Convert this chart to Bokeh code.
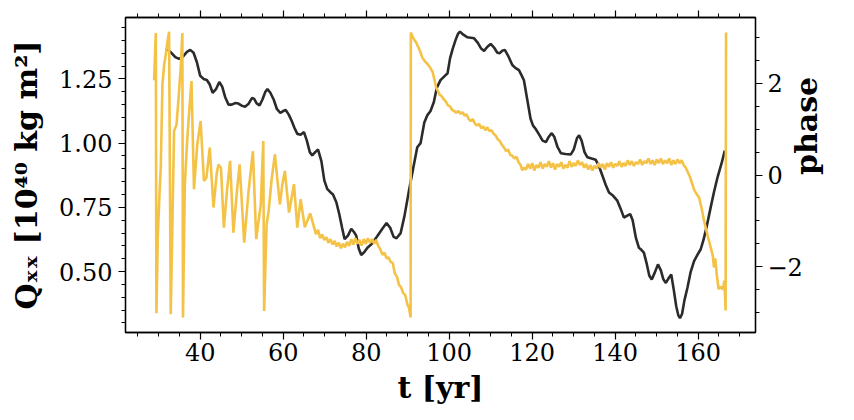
import math
from bokeh.plotting import figure
from bokeh.models import Range1d, LinearAxis, SingleIntervalTicker, Label
from bokeh.embed import file_html
from bokeh.resources import INLINE

# ---------------- data ----------------
t_q = [31.8, 33.0, 34.0, 34.9, 35.8, 36.8, 37.6, 38.4, 39.2, 40.0, 40.8, 41.6, 42.3, 43.0,
       43.8, 44.6, 45.3, 46.0, 46.8, 47.6, 48.4, 49.2, 50.0, 50.8, 51.6, 52.5, 53.0, 53.6,
       54.3, 55.0, 55.7, 56.2, 56.9, 57.7, 58.5, 59.3, 60.0, 60.6, 61.3, 62.0, 62.7, 63.4,
       64.2, 65.0, 65.7, 66.4, 67.0, 67.7, 68.4, 69.2, 69.9, 70.6, 71.3, 72.0, 72.8, 73.5,
       74.2, 74.8, 75.6, 76.4, 77.0, 77.6, 78.2, 78.8, 79.5, 80.3, 81.5, 82.7, 83.8, 84.9,
       85.8, 86.6, 87.3, 88.3, 89.2, 90.3, 91.3, 92.3, 93.1, 94.0, 94.7, 95.5, 96.3, 97.0,
       97.9, 98.7, 99.6, 100.2, 100.8, 101.5, 102.1, 102.6, 103.4, 104.4, 105.2, 106.0,
       106.9, 107.7, 108.4, 109.2, 110.0, 110.8, 111.6, 112.2, 112.8, 113.4, 114.2, 115.2,
       116.0, 116.8, 117.5, 118.0, 118.8, 119.6, 120.2, 120.8, 121.6, 122.5, 123.3, 124.0,
       124.7, 125.3, 126.1, 126.9, 128.0, 129.3, 130.0, 130.8, 131.3, 131.9, 132.6, 133.3,
       134.3, 135.3, 136.1, 136.9, 137.7, 138.5, 139.5, 140.5, 141.3, 142.1, 142.9, 143.6,
       144.2, 145.0, 145.7, 146.3, 146.9, 147.6, 148.2, 148.8, 149.5, 150.3, 151.0, 151.6,
       152.2, 152.9, 153.5, 154.1, 154.7, 155.2, 155.6, 156.1, 156.7, 157.4, 158.2, 159.0,
       159.8, 160.6, 161.3, 162.1, 163.0, 163.8, 164.7, 165.6, 166.4]
q_xx = [1.370, 1.352, 1.335, 1.328, 1.336, 1.355, 1.363, 1.352, 1.315, 1.262, 1.250, 1.246,
        1.228, 1.196, 1.210, 1.238, 1.220, 1.180, 1.150, 1.150, 1.156, 1.154, 1.146, 1.142,
        1.152, 1.176, 1.172, 1.155, 1.147, 1.170, 1.200, 1.210, 1.196, 1.170, 1.132, 1.118,
        1.125, 1.129, 1.112, 1.088, 1.060, 1.036, 1.033, 1.043, 1.010, 0.965, 0.952, 0.965,
        0.975, 0.930, 0.855, 0.822, 0.810, 0.800, 0.770, 0.724, 0.670, 0.626, 0.640, 0.667,
        0.655, 0.640, 0.590, 0.565, 0.575, 0.593, 0.610, 0.639, 0.665, 0.689, 0.670, 0.635,
        0.630, 0.650, 0.715, 0.815, 0.900, 0.984, 1.000, 1.080, 1.108, 1.125, 1.160, 1.215,
        1.245, 1.258, 1.272, 1.330, 1.365, 1.400, 1.425, 1.434, 1.422, 1.412, 1.410, 1.408,
        1.390, 1.368, 1.359, 1.375, 1.386, 1.372, 1.352, 1.350, 1.360, 1.363, 1.340, 1.304,
        1.292, 1.284, 1.262, 1.245, 1.170, 1.095, 1.068, 1.056, 1.035, 1.010, 1.004, 1.025,
        1.039, 1.025, 0.985, 0.961, 0.958, 0.956, 0.975, 1.020, 1.030, 1.010, 0.965, 0.945,
        0.940, 0.935, 0.910, 0.874, 0.838, 0.808, 0.795, 0.776, 0.745, 0.710, 0.718, 0.724,
        0.700, 0.630, 0.593, 0.585, 0.574, 0.530, 0.485, 0.469, 0.495, 0.528, 0.505, 0.470,
        0.456, 0.475, 0.489, 0.430, 0.365, 0.330, 0.319, 0.335, 0.390, 0.437, 0.500, 0.541,
        0.565, 0.587, 0.625, 0.680, 0.750, 0.810, 0.870, 0.920, 0.971]

t_ph = [28.9, 29.3, 29.45, 29.8, 30.2, 30.5, 30.9, 31.3, 31.7, 32.1, 32.5, 32.9, 33.3, 33.7,
        34.3, 34.8, 35.3, 35.7, 35.85, 36.3, 36.9, 37.4, 37.9, 38.5, 39.3, 40.1, 40.9, 41.5,
        42.3, 43.2, 44.0, 44.4, 45.0, 45.7, 46.5, 47.2, 48.0, 48.8, 49.5, 50.6, 51.6, 52.7,
        53.5, 54.0, 54.6, 55.2, 55.4, 56.0, 56.5, 57.2, 58.0, 58.6, 59.2, 59.8, 60.4, 61.4,
        62.6, 63.4, 64.2, 65.2, 66.5, 67.9,
        68.4, 68.9, 69.4, 69.9, 70.4, 70.9, 71.4, 71.9, 72.4, 72.9, 73.4, 73.9, 74.4, 74.9,
        75.4, 75.9, 76.4, 76.9, 77.4, 77.9, 78.4, 78.9, 79.4, 79.9, 80.4, 80.9, 81.4, 81.9,
        82.4, 82.9, 83.4, 83.9, 84.4, 84.9, 85.4, 85.9, 86.4, 86.9, 87.4, 87.9, 88.4, 88.9,
        89.4, 89.9, 90.3, 90.7,
        90.75, 91.2, 91.6, 92.0, 92.5, 93.0, 93.5, 94.0, 94.5, 95.0, 95.5, 96.0, 96.4, 96.8,
        97.2, 97.7, 98.2, 98.7, 99.2, 99.7, 100.2, 100.7, 101.2, 101.7, 102.2, 102.7, 103.2,
        103.7, 104.2, 104.7, 105.2, 105.7, 106.2, 106.7, 107.2, 107.7, 108.2, 108.7, 109.2,
        109.7, 110.2, 110.7, 111.2, 111.7, 112.2, 112.7, 113.2, 113.7, 114.2, 114.7, 115.2,
        115.7, 116.2, 116.7, 117.2, 117.6, 118.0,
        118.5, 119.0, 119.5, 120.0, 120.5, 121.0, 121.5, 122.0, 122.5, 123.0, 123.5, 124.0,
        124.5, 125.0, 125.5, 126.0, 126.5, 127.0, 127.5, 128.0, 128.5, 129.0, 129.5, 130.0,
        130.5, 131.0, 131.5, 132.0, 132.5, 133.0, 133.5, 134.0, 134.5, 135.0, 135.5, 136.0,
        136.5, 137.0, 137.5, 138.0, 138.5, 139.0, 139.5, 140.0, 140.5, 141.0, 141.5, 142.0,
        142.5, 143.0, 143.5, 144.0, 144.5, 145.0, 145.5, 146.0, 146.5, 147.0, 147.5, 148.0,
        148.5, 149.0, 149.5, 150.0, 150.5, 151.0, 151.5, 152.0, 152.5, 153.0, 153.5, 154.0,
        154.5, 155.0, 155.5, 156.0, 156.5,
        157.0, 157.5, 158.0, 158.5, 159.0, 159.5, 160.2, 160.8, 161.4, 162.2, 163.0, 163.5,
        163.8, 164.1, 164.5, 164.9, 165.4, 165.9, 166.3, 166.6, 166.7]
phase = [2.07, 3.10, -3.02, -1.30, -0.40, 0.16, 1.98, 2.40, 2.63, 2.90, 3.13, -3.04, -1.08, 0.96,
         1.10, 1.70, 2.34, 3.10, -3.11, -0.20, 0.81, 1.45, 2.05, -0.31, 0.67, 1.18, -0.13, -0.06,
         0.60, -0.71, 0.05, 0.23, 0.16, -1.15, -0.30, 0.31, -1.26, -0.40, 0.23, -1.48, -0.40, 0.52,
         -1.40, -1.05, -0.64, 0.74, -2.97, -1.08, -0.78, -0.10, 0.45, -0.10, -0.64, -0.20, 0.09, -0.82,
         -0.20, -1.15, -0.53, -1.14, -0.84, -1.29,
         -1.20, -1.38, -1.30, -1.42, -1.36, -1.48, -1.40, -1.52, -1.44, -1.56, -1.48, -1.60, -1.50, -1.58,
         -1.46, -1.55, -1.40, -1.52, -1.38, -1.50, -1.42, -1.54, -1.40, -1.50, -1.38, -1.48, -1.40, -1.50,
         -1.42, -1.55, -1.62, -1.74, -1.70, -1.82, -1.80, -1.90, -1.92, -2.15, -2.22, -2.40, -2.45, -2.58,
         -2.62, -2.82, -2.90, -3.11,
         3.11, 3.02, 2.95, 2.90, 2.80, 2.70, 2.57, 2.50, 2.45, 2.40, 2.33, 2.25, 2.10, 1.92,
         1.85, 1.75, 1.72, 1.65, 1.60, 1.52, 1.50, 1.42, 1.40, 1.36, 1.40, 1.34, 1.37,
         1.30, 1.32, 1.22, 1.18, 1.22, 1.12, 1.08, 1.12, 1.02, 1.06, 0.98, 1.04,
         0.96, 0.98, 0.90, 0.86, 0.78, 0.74, 0.66, 0.60, 0.52, 0.56, 0.44, 0.42,
         0.36, 0.40, 0.28, 0.22, 0.10, 0.16,
         0.12, 0.24, 0.14, 0.26, 0.10, 0.22, 0.16, 0.28, 0.14, 0.24, 0.18, 0.30,
         0.16, 0.26, 0.12, 0.24, 0.18, 0.28, 0.14, 0.22, 0.16, 0.30, 0.18, 0.26,
         0.20, 0.32, 0.22, 0.28, 0.16, 0.24, 0.12, 0.22, 0.10, 0.20, 0.14, 0.26,
         0.16, 0.24, 0.12, 0.26, 0.18, 0.28, 0.16, 0.24, 0.20, 0.30, 0.18, 0.26,
         0.20, 0.32, 0.22, 0.30, 0.20, 0.28, 0.24, 0.34, 0.22, 0.30, 0.26, 0.36,
         0.24, 0.32, 0.22, 0.34, 0.26, 0.36, 0.24, 0.32, 0.26, 0.36, 0.22, 0.32,
         0.24, 0.34, 0.26, 0.32, 0.22,
         0.16, 0.06, -0.04, -0.18, -0.32, -0.40, -0.49, -0.72, -1.00, -1.30, -1.58, -1.76,
         -2.02, -1.82, -2.20, -2.49, -2.44, -2.50, -2.31, -2.96, 3.11]

x_tick_step = 20
q_tick_step = 0.25
phase_tick_step = 2

BLACK = "#2b2b2b"
YELLOW = "#f4c247"
SERIF = "DejaVu Serif"

X0, X1 = 22.0, 173.8

p = figure(width=846, height=412, output_backend="svg", toolbar_location=None,
           x_range=Range1d(X0, X1), y_range=Range1d(0.263, 1.489),
           min_border_left=125, min_border_right=91, min_border_top=17, min_border_bottom=80,
           background_fill_color="white", border_fill_color="white")
p.extra_y_ranges = {"phase": Range1d(-3.44, 3.44)}
p.xgrid.visible = False
p.ygrid.visible = False
p.outline_line_color = "black"
p.outline_line_width = 1.3


def style(ax, labels=True):
    ax.axis_line_color = "black"
    ax.axis_line_width = 1.3
    ax.major_tick_out = 7
    ax.major_tick_in = 0
    ax.minor_tick_out = 4
    ax.minor_tick_in = 0
    ax.major_tick_line_color = "black"
    ax.minor_tick_line_color = "black"
    ax.major_tick_line_width = 1.2
    ax.minor_tick_line_width = 1.0
    ax.major_label_text_font = SERIF
    ax.major_label_text_font_size = "24px" if labels else "1px"
    ax.major_label_text_color = "black" if labels else None
    ax.axis_label_text_font = SERIF
    ax.axis_label_text_font_size = "30px"
    ax.axis_label_text_font_style = "bold"
    ax.axis_label_text_color = "black"


xa = p.xaxis[0]
xa.ticker = SingleIntervalTicker(interval=x_tick_step, num_minor_ticks=4)
xa.axis_label = "t [yr]"
style(xa)
xa.major_label_standoff = 3
xa.axis_label_standoff = 6

ya = p.yaxis[0]
ya.ticker = SingleIntervalTicker(interval=q_tick_step, num_minor_ticks=5)
ya.axis_label = "Qₓₓ [10⁴⁰ kg m²]"
style(ya)
ya.major_label_overrides = {0.5: "0.50", 0.75: "0.75", 1.0: "1.00", 1.25: "1.25"}
ya.major_label_standoff = 6
ya.axis_label_standoff = 12

top = LinearAxis(ticker=SingleIntervalTicker(interval=x_tick_step, num_minor_ticks=4))
style(top, labels=False)
top.major_label_standoff = 0
p.add_layout(top, "above")

ra = LinearAxis(y_range_name="phase",
                ticker=SingleIntervalTicker(interval=phase_tick_step, num_minor_ticks=4))
style(ra)
ra.major_label_overrides = {-2: "\u22122"}
ra.major_label_standoff = 5
p.add_layout(ra, "right")

if "axis_label_orientation" in ra.properties():
    # title of the right axis reads bottom to top, as in the reference
    ra.axis_label = "phase"
    ra.axis_label_standoff = 1
    ra.axis_label_orientation = math.pi / 2
else:
    p.add_layout(Label(x=-1.0, y=174.5, x_units="screen", y_units="screen",
                       text="phase", angle=math.pi / 2, text_align="center",
                       text_baseline="middle", text_font=SERIF, text_font_size="30px",
                       text_font_style="bold", text_color="black"), "right")

p.line(t_q, q_xx, line_color=BLACK, line_width=2.6)
p.line(t_ph, phase, line_color=YELLOW, line_width=2.6, y_range_name="phase")

open("out.html", "w").write(file_html(p, INLINE))
